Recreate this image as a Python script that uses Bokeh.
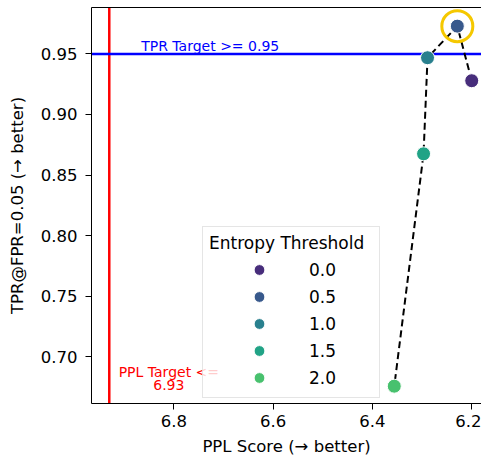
from bokeh.plotting import figure
from bokeh.models import (Range1d, FixedTicker, PrintfTickFormatter, Span,
                          Legend, LegendItem, ColumnDataSource, LinearAxis)
from bokeh.core.properties import value
from bokeh.embed import file_html
from bokeh.resources import INLINE

# ---- data ----
thresholds = [0.0, 0.5, 1.0, 1.5, 2.0]
ppl_scores = [6.200, 6.229, 6.289, 6.297, 6.356]
tpr_scores = [0.9279, 0.9730, 0.9469, 0.8675, 0.6755]
colors = ["#472d7b", "#38598c", "#29808e", "#21a386", "#48c16e"]
ppl_target = 6.93
tpr_target = 0.95
x_ticks = [6.8, 6.6, 6.4, 6.2]
y_ticks = [0.70, 0.75, 0.80, 0.85, 0.90, 0.95]

FONT = "DejaVu Sans"

p = figure(width=481, height=458,
           x_range=Range1d(6.9658, 6.1803), y_range=Range1d(0.6612, 0.9884),
           output_backend="svg", toolbar_location=None,
           min_border_left=91, min_border_right=0, min_border_top=7,
           min_border_bottom=55)
p.grid.visible = False
p.background_fill_color = "white"
p.border_fill_color = "white"
p.outline_line_color = None

for ax in (p.xaxis[0], p.yaxis[0]):
    ax.axis_line_color = "black"
    ax.major_tick_line_color = "black"
    ax.major_tick_out = 6
    ax.major_tick_in = 0
    ax.minor_tick_line_color = None
    ax.major_label_text_font = FONT
    ax.major_label_text_font_size = "16.5px"
    ax.major_label_text_color = "black"
    ax.axis_label_text_font = FONT
    ax.axis_label_text_font_size = "16.5px"
    ax.axis_label_text_font_style = "normal"
    ax.axis_label_text_color = "black"

p.xaxis.major_label_standoff = 5
p.yaxis.major_label_standoff = 8
p.xaxis.ticker = FixedTicker(ticks=x_ticks)
p.yaxis.ticker = FixedTicker(ticks=y_ticks)
p.xaxis.formatter = PrintfTickFormatter(format="%.1f")
p.yaxis.formatter = PrintfTickFormatter(format="%.2f")
p.xaxis.axis_label = "PPL Score (→ better)"
p.yaxis.axis_label = "TPR@FPR=0.05 (→ better)"
p.xaxis.axis_label_standoff = 7
p.yaxis.axis_label_standoff = 11

# top spine only (no right spine, as in the reference)
top_axis = LinearAxis(ticker=FixedTicker(ticks=[]), major_tick_out=0,
                      major_tick_in=0, minor_tick_out=0, minor_tick_in=0,
                      major_label_text_font_size="0px",
                      axis_line_color="black", axis_line_width=1)
p.add_layout(top_axis, "above")

# target lines
p.add_layout(Span(location=ppl_target, dimension="height", line_color="red",
                  line_width=2.5, level="underlay"))
p.add_layout(Span(location=tpr_target, dimension="width", line_color="blue",
                  line_width=2.5, level="underlay"))

# annotations
p.text(x=[6.8657], y=[0.9562], text=["TPR Target >= %.2f" % tpr_target],
       text_color="blue", text_font=value(FONT), text_font_size="14px",
       text_align="left", text_baseline="alphabetic")
p.text(x=[6.81], y=[0.6818], text=["PPL Target <=\n%.2f" % ppl_target],
       text_color="red", text_font=value(FONT), text_font_size="14px",
       text_align="center", text_baseline="middle", text_line_height=0.85)

# connecting dashed line
p.line(ppl_scores, tpr_scores, line_color="black", line_width=2,
       line_dash="7 4")

src = ColumnDataSource(dict(x=ppl_scores, y=tpr_scores, c=colors,
                            t=["%.1f" % t for t in thresholds]))
r = p.scatter("x", "y", source=src, size=14, fill_color="c",
              line_color="white", line_width=1)

# highlight best TPR
best = max(range(len(tpr_scores)), key=lambda i: tpr_scores[i])
p.scatter([ppl_scores[best]], [tpr_scores[best]], size=31, fill_color=None,
          line_color="#f5c800", line_width=3)

items = [LegendItem(label="%.1f" % t, renderers=[r], index=i)
         for i, t in enumerate(thresholds)]
legend = Legend(items=items, location=(111, 5), title="Entropy Threshold",
                title_text_font=FONT, title_text_font_size="17px",
                title_text_font_style="normal", title_text_color="black",
                label_text_font=FONT, label_text_font_size="17px",
                label_text_color="black",
                glyph_width=100, glyph_height=27, label_height=27,
                label_width=64, label_standoff=0, spacing=0, padding=6,
                margin=0, title_standoff=3,
                border_line_color="#cccccc", border_line_width=1,
                background_fill_color="white", background_fill_alpha=0.8)
p.add_layout(legend)

open("out.html", "w").write(file_html(p, INLINE))
